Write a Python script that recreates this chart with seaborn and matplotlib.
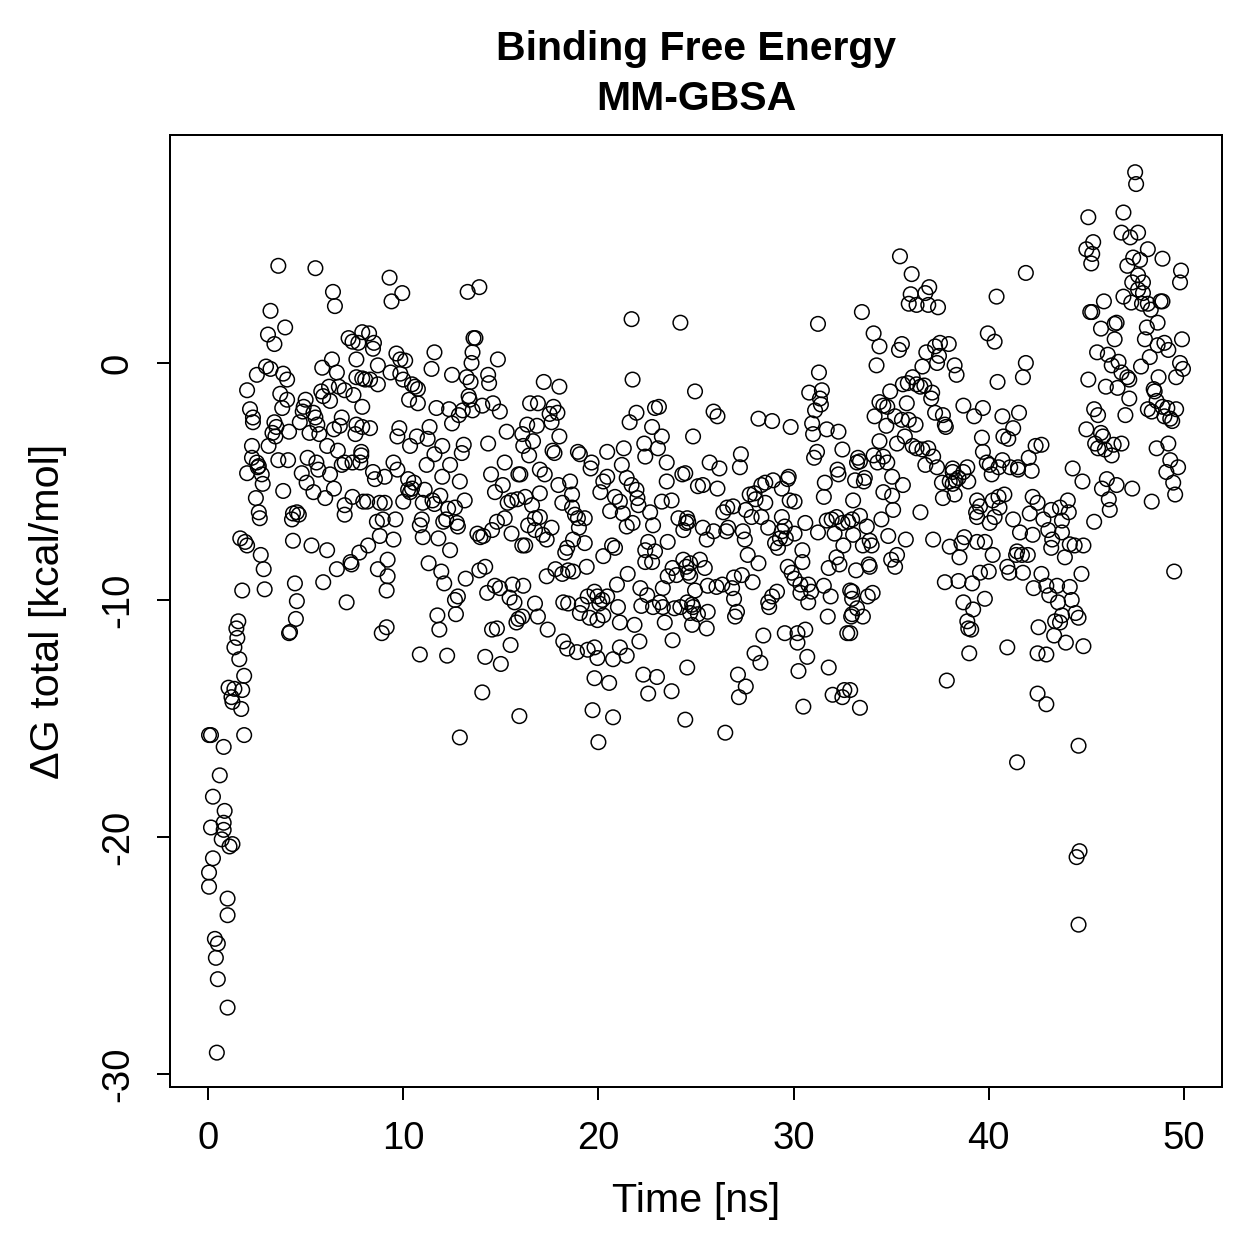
import matplotlib
matplotlib.use("Agg")
import matplotlib.pyplot as plt
import pandas as pd
import seaborn as sns

# (time [ns], dG total [kcal/mol]), grouped by time window
pts_early = [
    (0.05, -15.7), (0.05, -21.5), (0.05, -22.1), (0.15, -19.6), (0.25, -20.9), (0.25, -18.3),
    (0.35, -24.3), (0.4, -25.1), (0.5, -24.5), (0.5, -26.0), (0.45, -29.1), (0.6, -17.4),
    (0.7, -20.1), (0.8, -19.7), (0.8, -19.4), (0.85, -18.9), (0.8, -16.2), (1.0, -22.6),
    (1.0, -23.3), (1.0, -27.2), (1.1, -20.4), (1.25, -20.3), (0.15, -15.7), (1.85, -15.7),
    (1.65, -7.4), (2.0, -7.7), (1.9, -7.55), (2.7, -8.1), (2.85, -8.7), (2.9, -9.55),
    (1.75, -9.6), (1.55, -10.9), (1.45, -11.2), (1.5, -11.6), (1.35, -12.0), (1.6, -12.5),
    (1.85, -13.2), (1.05, -13.7), (1.35, -13.75), (1.75, -13.8), (1.2, -14.1), (1.25, -14.3),
    (1.7, -14.6),
]

pts_a = [
    (3.6, 4.1), (5.5, 4.0), (6.4, 3.0), (6.5, 2.4), (3.2, 2.2), (3.95, 1.5), (3.07, 1.2),
    (3.4, 0.8), (7.2, 1.05), (7.4, 0.9), (7.9, 1.3), (6.35, 0.15), (5.85, -0.2), (6.6, -0.4),
    (7.6, 0.15), (7.6, -0.6), (7.9, -0.65), (2.97, -0.15), (3.2, -0.25), (2.5, -0.5),
    (3.85, -0.45), (4.05, -0.7), (2.0, -1.15), (3.7, -1.3), (4.05, -1.55), (3.8, -1.9),
    (2.15, -1.95), (2.3, -2.3), (2.3, -2.5), (5.8, -1.2), (6.2, -1.0), (5.9, -1.4),
    (6.25, -1.6), (6.7, -1.0), (7.0, -1.15), (7.45, -1.35), (7.9, -1.85), (5.0, -1.55),
    (4.9, -1.85), (4.85, -2.05), (5.4, -2.1), (5.5, -2.3), (5.6, -2.6), (4.7, -2.5),
    (5.2, -2.95), (5.7, -3.0), (6.45, -2.8), (6.85, -2.3), (6.75, -2.65), (7.6, -2.6),
    (7.55, -3.0), (7.9, -2.7), (3.4, -2.5), (3.5, -2.7), (3.3, -2.95), (3.45, -3.1),
    (3.1, -3.5), (4.15, -2.9), (2.25, -3.5), (2.25, -4.0), (2.5, -4.2), (3.6, -4.1),
    (4.1, -4.1), (5.1, -4.0), (5.55, -4.2), (6.65, -3.7), (6.1, -3.5), (7.0, -4.2),
    (7.85, -3.9), (2.6, -4.35), (2.55, -4.4),
    (2.0, -4.65), (2.75, -4.7), (2.8, -5.1), (3.85, -5.4), (4.8, -4.65), (5.05, -5.05),
    (5.4, -5.45), (6.0, -5.7), (6.45, -5.3), (7.0, -6.4), (7.0, -6.0), (7.4, -5.65),
    (5.65, -4.5), (6.25, -4.7), (6.85, -4.3), (7.4, -4.2), (7.95, -5.85), (2.45, -5.7),
    (2.6, -6.3), (2.65, -6.55), (4.35, -6.35), (4.55, -6.3), (4.65, -6.4), (4.3, -6.6),
    (4.35, -7.5), (5.3, -7.7), (6.1, -7.9), (6.6, -8.7), (7.3, -8.4), (7.35, -8.5),
    (7.75, -8.0), (5.9, -9.25), (7.1, -10.1), (4.45, -9.3), (4.55, -10.05), (4.5, -10.8),
    (4.2, -11.35), (4.15, -11.4),
]

pts_b = [
    (9.3, 3.6), (9.95, 2.95), (9.4, 2.6), (13.3, 3.0), (13.9, 3.2), (8.25, 1.25), (8.5, 0.85),
    (8.45, 0.6), (7.7, 0.85), (8.7, -0.1), (8.05, -0.7), (8.3, -0.7), (8.7, -0.9),
    (9.65, 0.4), (9.85, 0.15), (10.1, 0.1), (9.35, -0.4), (9.85, -0.45), (10.0, -0.7),
    (10.45, -0.9), (10.6, -1.0), (10.75, -1.1), (11.6, 0.45), (11.45, -0.25), (12.5, -0.5),
    (13.6, 1.05), (13.7, 1.05), (13.55, 0.45), (13.5, 0.0), (13.25, -0.6), (13.45, -0.8),
    (14.85, 0.15), (14.35, -0.5), (14.4, -0.85), (13.35, -1.4), (13.4, -1.55), (14.05, -1.8),
    (13.55, -2.0), (14.6, -1.7), (14.95, -2.05), (10.3, -1.55), (10.75, -1.7), (11.7, -1.9),
    (12.35, -1.95), (12.85, -2.2), (13.05, -2.0), (12.5, -2.55), (11.35, -2.7), (9.8, -2.75),
    (8.3, -2.75), (9.7, -3.1), (10.7, -3.1), (11.25, -3.2), (10.35, -3.5), (12.0, -3.5),
    (11.6, -3.85), (13.1, -3.45), (13.0, -3.8), (14.35, -3.4), (15.3, -2.9), (7.85, -3.75),
    (9.5, -4.2), (11.2, -4.3), (12.4, -4.3), (15.2, -4.2),
    (7.8, -4.2), (8.45, -4.6), (8.55, -4.9), (9.05, -4.8), (9.7, -4.5), (10.25, -4.9),
    (10.55, -5.05), (10.25, -5.35), (10.35, -5.45), (10.45, -5.3), (11.1, -5.35), (12.0, -4.8),
    (12.9, -5.0), (8.15, -5.85), (8.8, -5.9), (9.05, -5.9), (10.0, -5.85), (11.0, -5.9),
    (11.5, -5.8), (11.6, -5.95), (11.9, -5.6), (12.3, -6.15), (12.65, -6.1), (13.15, -5.8),
    (8.65, -6.7), (8.95, -6.6), (9.6, -6.6), (10.85, -6.85), (10.95, -6.6), (11.0, -7.35),
    (12.05, -6.7), (12.2, -6.6), (12.75, -6.75), (12.8, -6.9), (13.8, -7.2), (13.95, -7.35),
    (14.1, -7.3), (11.8, -7.4), (12.4, -7.9), (8.8, -7.3), (9.5, -7.45), (8.2, -7.7),
    (9.2, -8.3), (8.7, -8.7), (9.2, -9.0), (9.15, -9.6), (11.3, -8.45), (11.95, -8.8),
    (12.1, -9.3), (13.2, -9.1), (12.65, -10.0), (12.8, -9.85), (12.7, -10.6), (11.75, -10.65),
    (11.85, -11.25), (9.15, -11.15), (8.9, -11.4), (10.85, -12.3), (12.25, -12.35),
    (12.9, -15.8), (13.9, -8.75), (14.2, -8.6), (14.3, -9.7), (14.7, -9.4), (14.95, -9.5),
    (14.55, -11.25), (14.8, -11.2), (14.2, -12.4), (15.0, -12.7), (14.05, -13.9),
    (15.5, -11.9), (15.95, -14.9), (15.45, -9.9), (15.7, -10.1), (15.8, -10.95), (15.9, -10.8),
    (16.1, -10.7), (15.6, -9.35), (16.1, -7.7), (15.55, -7.2), (15.2, -6.55), (14.8, -6.7),
    (14.55, -7.05), (15.55, -5.8), (15.85, -5.75), (14.7, -5.45), (15.1, -5.15), (14.5, -4.7),
    (15.9, -4.7), (15.35, -5.9),
]

pts_c = [
    (21.7, 1.85), (24.2, 1.7), (21.75, -0.7), (17.2, -0.8), (18.0, -1.0), (16.5, -1.7),
    (16.9, -1.7), (17.7, -1.85), (17.5, -2.15), (17.9, -2.1), (17.6, -2.5), (16.35, -2.6),
    (16.85, -2.65), (18.0, -3.1), (16.1, -3.0), (16.65, -3.3), (16.15, -3.5), (16.45, -3.9),
    (17.65, -3.7), (17.75, -3.8), (18.95, -3.75), (19.05, -3.85), (19.65, -4.2), (20.45, -3.75),
    (21.3, -3.6), (21.2, -4.3), (21.6, -2.5), (21.95, -2.1), (22.75, -2.7), (22.9, -1.9),
    (23.1, -1.85), (22.35, -3.4), (22.4, -3.95), (23.25, -3.1), (23.05, -3.6), (23.5, -4.2),
    (24.95, -1.2), (24.85, -3.1), (17.0, -4.5),
    (16.0, -4.7), (17.25, -4.7), (17.95, -5.15), (18.55, -5.0), (18.65, -5.55), (18.15, -5.9),
    (17.0, -5.5), (16.25, -5.65), (16.6, -6.0), (18.65, -6.1), (18.8, -6.4), (18.95, -6.55),
    (19.3, -6.55), (19.0, -6.95), (16.75, -6.55), (17.0, -6.5), (16.4, -6.85), (16.75, -7.05),
    (17.15, -7.25), (17.35, -7.45), (17.6, -6.95), (16.25, -7.7), (19.6, -4.45), (20.25, -5.0),
    (20.45, -4.8), (20.1, -5.45), (21.45, -4.85), (21.7, -5.15), (21.95, -5.35), (20.85, -5.65),
    (21.1, -5.85), (20.6, -6.25), (21.25, -6.35), (22.05, -6.0), (22.0, -5.7), (21.45, -6.9),
    (21.75, -6.75), (22.65, -6.3), (22.8, -6.85), (23.25, -5.85), (23.75, -5.8), (23.5, -5.0),
    (24.3, -4.7), (24.1, -6.55), (24.6, -6.7), (24.35, -7.05), (19.3, -7.6), (18.4, -7.8),
    (18.3, -8.0), (18.7, -7.45), (20.25, -8.15), (20.7, -7.7), (20.85, -7.8), (19.4, -8.6),
    (18.7, -8.8), (18.45, -8.75), (18.15, -8.9), (17.8, -8.7), (17.35, -9.0), (16.15, -9.4),
    (16.75, -10.15), (16.9, -10.7), (17.4, -11.25), (18.2, -10.1), (18.45, -10.15),
    (19.15, -10.2), (19.05, -10.55), (19.45, -9.85), (19.8, -9.65), (19.95, -9.85),
    (20.2, -10.0), (20.45, -9.85), (20.05, -10.15), (20.25, -10.65), (19.55, -10.75),
    (21.0, -10.3), (21.1, -10.95), (20.95, -9.35), (21.5, -8.9), (22.15, -9.5), (22.5, -9.8),
    (22.2, -10.25), (22.8, -10.3), (23.15, -10.1), (23.3, -10.3), (23.9, -10.35), (24.2, -10.3),
    (24.7, -10.55), (23.3, -9.5), (23.55, -9.0), (23.8, -8.65), (24.0, -8.95), (24.35, -8.3),
    (24.5, -8.6), (24.7, -9.0), (22.4, -7.9), (22.55, -7.55), (22.9, -7.95), (22.75, -8.4),
    (22.4, -8.4), (23.55, -7.55), (19.95, -10.85), (21.85, -11.05), (22.1, -11.75),
    (23.4, -10.95), (23.8, -11.7), (18.2, -11.75), (18.4, -12.05), (18.9, -12.2),
    (19.45, -12.1), (19.8, -12.0), (19.95, -12.45), (20.75, -12.5), (21.1, -12.0),
    (21.45, -12.35), (19.8, -13.3), (20.55, -13.5), (22.3, -13.15), (23.0, -13.25),
    (22.55, -13.95), (23.75, -13.85), (24.55, -12.85), (19.7, -14.65), (20.75, -14.95),
    (24.45, -15.05), (20.0, -16.0),
]

pts_d = [
    (31.25, 1.65), (33.5, 2.15), (31.3, -0.4), (30.8, -1.25), (31.45, -1.15), (31.35, -1.5),
    (31.4, -1.75), (31.1, -2.0), (30.95, -2.55), (31.0, -3.0), (31.7, -2.8), (32.3, -2.9),
    (32.5, -3.65), (31.2, -3.75), (31.05, -4.0), (25.9, -2.05), (26.1, -2.25), (28.2, -2.35),
    (28.9, -2.45), (29.85, -2.7), (27.3, -3.85), (27.25, -4.4), (25.7, -4.2), (26.2, -4.45),
    (33.3, -4.0), (32.25, -4.5),
    (25.1, -5.2), (25.35, -5.15), (26.1, -5.3), (24.45, -4.65), (24.5, -6.75), (24.55, -6.55),
    (25.35, -6.95), (25.55, -7.45), (25.9, -7.1), (26.4, -6.3), (26.6, -6.1), (26.9, -6.05),
    (26.65, -6.95), (26.55, -7.1), (27.4, -7.1), (27.5, -7.45), (27.55, -6.2), (27.85, -6.5),
    (27.75, -5.55), (28.0, -5.5), (28.05, -5.75), (28.35, -5.15), (28.55, -5.05),
    (28.95, -4.95), (29.4, -5.3), (29.7, -4.9), (29.75, -4.8), (29.8, -5.8), (30.05, -5.85),
    (28.55, -5.9), (28.35, -6.5), (28.7, -6.95), (29.4, -6.5), (29.55, -6.9), (29.4, -7.1),
    (29.3, -7.4), (29.05, -7.6), (29.2, -7.8), (29.6, -7.4), (30.05, -7.2), (30.6, -6.75),
    (31.25, -7.15), (31.6, -5.05), (31.55, -5.65), (32.3, -4.7), (33.05, -5.8), (31.7, -6.65),
    (31.95, -6.6), (32.2, -6.5), (32.5, -6.75), (32.8, -6.7), (32.1, -7.2), (32.55, -7.7),
    (32.2, -8.2), (32.35, -8.5), (31.8, -8.65), (30.45, -7.9), (30.45, -8.4), (29.7, -8.6),
    (29.9, -8.85), (30.05, -9.1), (30.35, -9.35), (30.35, -9.7), (30.75, -9.35), (30.9, -9.65),
    (30.75, -10.1), (31.55, -9.4), (31.9, -9.85), (32.9, -9.6), (31.75, -10.7), (32.95, -10.7),
    (32.75, -11.4), (24.7, -8.45), (25.2, -8.3), (25.45, -8.65), (24.6, -8.85), (24.95, -9.6),
    (25.6, -9.4), (26.05, -9.45), (26.35, -9.35), (26.95, -9.05), (27.35, -8.95), (26.85, -9.5),
    (26.95, -9.95), (27.1, -10.5), (27.0, -10.7), (27.65, -8.1), (28.2, -8.45), (27.9, -9.25),
    (29.15, -9.65), (28.9, -9.85), (28.7, -10.1), (28.75, -10.3), (29.55, -11.4), (30.2, -11.4),
    (30.6, -11.25), (30.2, -11.8), (28.45, -11.5), (30.7, -12.4), (30.25, -13.0),
    (31.8, -12.85), (28.0, -12.25), (28.3, -12.65), (27.15, -13.15), (27.55, -13.65),
    (27.2, -14.1), (32.0, -14.0), (32.6, -13.8), (32.5, -14.1), (30.5, -14.5), (26.5, -15.6),
    (24.8, -10.2), (24.85, -10.3), (24.8, -11.05), (25.55, -11.2), (25.6, -10.5),
    (25.1, -10.6), (24.55, -10.1),
]

pts_e = [
    (35.45, 4.5), (36.05, 3.75), (36.95, 3.2), (36.75, 2.95), (36.0, 2.9), (35.9, 2.5),
    (36.3, 2.45), (36.9, 2.45), (37.4, 2.35), (40.4, 2.8), (41.9, 3.8), (34.1, 1.25),
    (34.4, 0.7), (34.25, -0.1), (35.4, 0.55), (35.55, 0.8), (36.8, 0.45), (37.25, 0.7),
    (37.5, 0.85), (37.95, 0.8), (37.35, 0.0), (36.6, -0.15), (37.45, 0.3), (38.25, -0.1),
    (38.35, -0.5), (39.95, 1.25), (40.3, 0.9), (40.45, -0.8), (41.9, 0.0), (41.75, -0.6),
    (36.1, -0.6), (35.6, -0.9), (35.85, -0.85), (36.3, -0.9), (36.5, -1.0), (36.7, -0.95),
    (34.95, -1.2), (37.1, -1.25), (37.05, -1.5), (34.4, -1.65), (34.6, -1.8), (34.8, -1.85),
    (35.8, -1.7), (34.15, -2.25), (34.75, -2.65), (35.2, -2.25), (35.55, -2.4), (35.9, -2.4),
    (36.25, -2.6), (37.25, -2.1), (37.65, -2.2), (37.75, -2.6), (37.8, -2.7), (38.7, -1.8),
    (39.25, -2.25), (39.7, -1.9), (40.7, -2.25), (41.25, -2.75), (41.55, -2.1), (40.75, -3.1),
    (41.0, -3.2), (35.7, -3.1), (35.3, -3.4), (34.4, -3.3), (34.1, -3.9), (34.6, -3.95),
    (34.8, -4.2), (34.3, -4.2), (33.4, -4.15), (36.1, -3.5), (36.3, -3.6), (36.6, -3.65),
    (36.9, -3.6), (37.15, -3.95), (39.65, -3.15), (39.7, -3.75), (39.9, -4.2), (40.7, -4.1),
    (36.75, -4.3), (37.35, -4.4), (38.15, -4.45), (38.9, -4.4), (40.05, -4.3),
    (33.25, -4.2), (33.15, -4.95), (33.65, -4.85), (33.6, -5.0), (35.05, -4.8), (35.6, -5.15),
    (34.6, -5.45), (35.05, -5.6), (35.1, -6.2), (34.5, -6.6), (33.4, -6.45), (33.0, -6.6),
    (33.05, -7.25), (33.75, -6.9), (34.85, -7.3), (35.75, -7.45), (33.55, -7.7), (34.0, -7.7),
    (33.9, -7.5), (33.9, -8.6), (33.85, -8.5), (33.2, -8.75), (35.0, -8.3), (35.3, -8.1),
    (35.2, -8.6), (33.0, -9.65), (33.0, -9.95), (33.8, -9.85), (34.05, -9.7), (33.25, -10.35),
    (33.55, -10.7), (33.0, -10.6), (32.9, -11.4), (32.9, -13.8), (33.4, -14.55), (36.5, -6.3),
    (37.6, -5.05), (37.65, -5.7), (38.25, -5.55), (38.0, -5.0), (38.15, -5.1), (38.3, -4.95),
    (38.45, -4.85), (38.15, -4.6), (38.7, -4.6), (38.95, -5.0), (40.15, -4.7), (40.5, -4.4),
    (41.1, -4.4), (37.15, -7.45), (38.0, -7.75), (38.5, -8.2), (38.6, -7.6), (38.75, -7.35),
    (39.4, -7.55), (39.8, -7.55), (40.2, -8.1), (39.55, -8.85), (40.0, -8.8), (39.15, -9.3),
    (38.45, -9.2), (37.75, -9.25), (39.4, -5.8), (39.55, -6.05), (39.35, -6.3), (39.4, -6.5),
    (40.2, -5.8), (40.5, -5.65), (40.8, -5.55), (40.55, -6.1), (40.3, -6.5), (40.05, -6.75),
    (41.25, -6.6), (41.6, -7.15), (38.7, -10.1), (39.2, -10.4), (39.8, -9.95), (38.9, -10.9),
    (38.95, -11.2), (39.1, -11.25), (39.0, -12.25), (37.85, -13.4), (40.95, -12.0),
    (41.4, -8.1), (41.45, -7.95), (40.95, -8.6), (41.05, -8.85), (41.75, -8.85),
]

pts_f = [
    (47.5, 8.05), (47.55, 7.55), (46.9, 6.35), (45.1, 6.15), (46.8, 5.5), (47.25, 5.3),
    (47.65, 5.5), (45.35, 5.1), (45.0, 4.8), (45.3, 4.6), (45.25, 4.2), (48.15, 4.8),
    (48.9, 4.4), (47.4, 4.45), (47.75, 4.35), (47.1, 4.1), (47.65, 3.7), (47.35, 3.4),
    (47.9, 3.4), (49.85, 3.9), (49.8, 3.4), (47.65, 3.1), (47.9, 2.95), (46.9, 2.8),
    (47.3, 2.55), (47.85, 2.5), (48.15, 2.5), (48.3, 2.25), (48.8, 2.6), (48.9, 2.6),
    (45.9, 2.6), (45.2, 2.15), (45.3, 2.15), (46.55, 1.7), (46.45, 1.65), (48.65, 1.7),
    (45.75, 1.45), (48.1, 1.5), (48.0, 1.0), (46.45, 1.0), (49.9, 1.0), (48.65, 0.75),
    (49.0, 0.85), (49.2, 0.55), (45.55, 0.45), (46.1, 0.35), (46.65, 0.05), (46.3, -0.1),
    (48.25, 0.25), (47.8, -0.15), (46.8, -0.4), (47.1, -0.6), (47.2, -0.7), (49.8, 0.0),
    (49.95, -0.25), (49.6, -0.6), (48.7, -0.6), (45.1, -0.7), (46.0, -1.0), (46.6, -1.05),
    (48.45, -1.1), (48.5, -1.2), (47.2, -1.5), (48.6, -1.6), (48.9, -1.85), (49.15, -1.9),
    (49.6, -1.95), (48.15, -1.95), (48.35, -2.05), (49.0, -2.25), (49.4, -2.45),
    (49.3, -2.35), (45.4, -1.95), (45.6, -2.2), (47.0, -2.2), (45.0, -2.8), (45.75, -2.95),
    (45.85, -3.1), (45.45, -3.4), (45.6, -3.6), (45.95, -3.65), (46.4, -3.45), (46.8, -3.4),
    (46.3, -3.9), (49.2, -3.4), (48.6, -3.6), (49.3, -4.1), (49.7, -4.4), (42.7, -3.45),
    (42.4, -3.5), (42.05, -4.0), (41.5, -4.4), (44.3, -4.45),
    (44.8, -5.0), (46.05, -4.9), (45.8, -5.3), (46.55, -5.15), (47.35, -5.3), (48.35, -5.85),
    (46.15, -5.75), (46.2, -6.2), (49.1, -4.6), (49.45, -5.05), (49.55, -5.55), (49.5, -8.8),
    (45.4, -6.7), (42.2, -4.55), (41.5, -4.5), (42.25, -5.65), (42.5, -5.9), (42.1, -6.35),
    (42.8, -6.6), (43.2, -6.2), (43.65, -6.1), (44.05, -5.8), (44.1, -6.3), (43.75, -6.65),
    (43.05, -7.05), (43.75, -7.15), (42.25, -7.25), (43.25, -7.45), (43.2, -7.8),
    (44.15, -7.65), (44.4, -7.7), (44.85, -7.7), (43.9, -8.2), (41.7, -8.1), (42.0, -8.1),
    (42.7, -8.9), (44.75, -8.9), (42.3, -9.5), (42.95, -9.4), (43.5, -9.4), (44.15, -9.45),
    (43.1, -9.8), (43.55, -10.1), (44.25, -10.0), (43.75, -10.65), (43.4, -10.9),
    (43.65, -10.95), (44.45, -10.55), (44.6, -10.75), (42.55, -11.15), (43.35, -11.5),
    (43.95, -11.8), (44.85, -11.95), (42.5, -12.25), (42.95, -12.3), (42.5, -13.95),
    (42.95, -14.4), (44.6, -16.15), (41.45, -16.85), (44.5, -20.85), (44.65, -20.6),
    (44.6, -23.7),
]

x_ticks = [0, 10, 20, 30, 40, 50]
y_ticks = [0, -10, -20, -30]

df = pd.DataFrame(
    pts_early + pts_a + pts_b + pts_c + pts_d + pts_e + pts_f,
    columns=["time", "dg"],
)

sns.set_style("ticks")
plt.rcParams["font.family"] = ["Liberation Sans", "DejaVu Sans"]
plt.rcParams["text.color"] = "black"
plt.rcParams["axes.labelcolor"] = "black"

fig = plt.figure(figsize=(1259 / 180, 1259 / 180), dpi=180)
ax = fig.add_axes([170 / 1259, 1 - 1087 / 1259, 1052 / 1259, 952 / 1259])

sns.scatterplot(
    data=df, x="time", y="dg", ax=ax,
    marker="o", s=34, facecolors="none", edgecolor="black", linewidth=0.6,
)

ax.set_xlim(-1.95, 51.95)
ax.set_ylim(-30.55, 9.62)
ax.set_xticks(x_ticks)
ax.set_yticks(y_ticks)
ax.set_yticklabels([str(v) for v in y_ticks], rotation=90, va="center")
ax.tick_params(axis="both", direction="out", length=5.2, width=0.8, pad=8.5,
               labelsize=15.3, color="black", labelcolor="black")
for side in ["top", "right", "bottom", "left"]:
    ax.spines[side].set_visible(True)
    ax.spines[side].set_color("black")
    ax.spines[side].set_linewidth(0.8)

ax.set_xlabel("Time [ns]", fontsize=16.5, labelpad=10, color="black")
ax.set_ylabel("ΔG total [kcal/mol]", fontsize=16.5, labelpad=13, color="black")
ax.set_title("Binding Free Energy\nMM-GBSA", fontsize=16.4, fontweight="bold",
             linespacing=1.4, pad=10, color="black")

fig.savefig("out.png", dpi=180)
plt.close(fig)
